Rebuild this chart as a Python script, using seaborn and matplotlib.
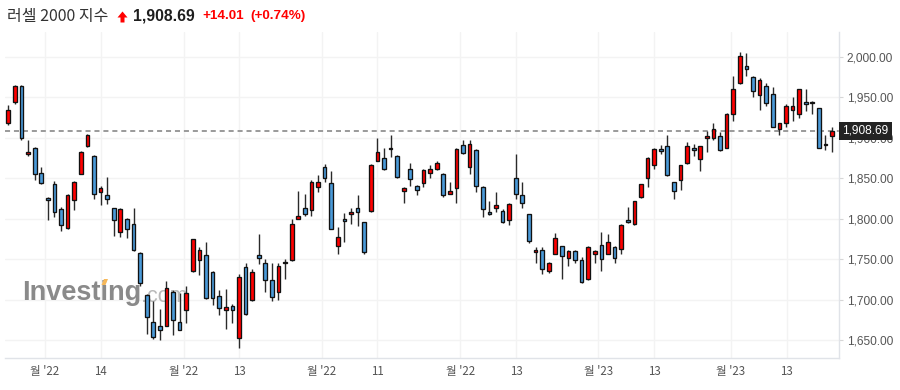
import numpy as np
import pandas as pd
import matplotlib
matplotlib.use("Agg")
import matplotlib.pyplot as plt
import matplotlib.transforms as mtransforms
from matplotlib.patches import Polygon
import seaborn as sns

# ---------------- data ----------------
opens = [1918, 1944, 1964, 1880, 1888, 1857, 1826, 1843, 1812, 1789,
         1823, 1856, 1890, 1878, 1833, 1830, 1813, 1784, 1800, 1794,
         1758, 1706, 1673, 1668, 1668, 1710, 1672, 1687, 1735, 1749,
         1755, 1734, 1705, 1687, 1692, 1653, 1740, 1700, 1755, 1746,
         1725, 1709, 1745, 1749, 1800, 1814, 1811, 1839, 1864, 1844,
         1767, 1800, 1805.5, 1814, 1796, 1810, 1872, 1875, 1886, 1878,
         1835, 1861, 1841, 1844, 1857, 1862, 1856, 1831, 1838, 1891,
         1864, 1885, 1839, 1808, 1814, 1810, 1798, 1851, 1830, 1805.5,
         1758.5, 1762, 1735, 1757, 1766, 1752, 1760, 1748.6, 1726, 1757,
         1768, 1757, 1765, 1763, 1799, 1793, 1826.5, 1850, 1867, 1886,
         1890, 1845, 1847.5, 1868.5, 1887, 1873.5, 1899.5, 1899.5, 1902, 1888,
         1930, 1967.5, 1988.5, 1975, 1952.6, 1964, 1954, 1910.6, 1919, 1934,
         1930, 1945, 1942.7, 1937, 1891, 1902]
highs = [1941, 1965, 1965, 1897, 1889, 1864, 1826.5, 1847, 1815, 1831,
         1847, 1884, 1905, 1879, 1840, 1852, 1813.5, 1813, 1801, 1814,
         1759, 1707, 1699, 1688, 1723, 1712, 1708, 1717, 1775, 1765,
         1771, 1735, 1712, 1713, 1695, 1732, 1746, 1738, 1781, 1750,
         1745, 1745, 1750, 1800, 1835, 1831, 1848, 1854, 1868, 1859,
         1790, 1807, 1814, 1830, 1796.5, 1868, 1899.5, 1888, 1904, 1879,
         1839, 1868.5, 1842, 1861, 1867, 1872, 1857, 1845, 1887, 1897,
         1897, 1886, 1840, 1821.5, 1833, 1812, 1819, 1880, 1845, 1806,
         1765, 1765, 1747, 1783, 1767, 1761, 1761, 1753, 1767, 1762,
         1784, 1781, 1766, 1793, 1815, 1822, 1843, 1876, 1888, 1891,
         1903, 1846, 1867, 1894.5, 1892, 1890, 1909, 1918, 1907, 1931,
         1976, 2006, 2004.6, 1976, 1974, 1967.5, 1962.5, 1919, 1941.5, 1951,
         1961, 1961, 1946, 1937.5, 1903, 1914]
lows = [1916, 1942, 1898, 1878, 1848, 1843, 1798, 1802, 1785, 1787,
        1811, 1855, 1889, 1825, 1817, 1818, 1779, 1778, 1776, 1760,
        1717, 1658, 1652, 1650, 1667, 1656, 1662, 1671, 1734, 1731,
        1701, 1694, 1681, 1664, 1671, 1640, 1681, 1699, 1744, 1709,
        1699, 1700, 1726, 1748, 1800, 1804, 1804, 1833, 1845, 1787,
        1757, 1771, 1793, 1791, 1757, 1809, 1871, 1860, 1877, 1851,
        1820, 1840, 1829, 1839, 1851, 1860, 1826.5, 1830.5, 1820, 1880,
        1856, 1833, 1802, 1805, 1808, 1795, 1792, 1824, 1813, 1770,
        1746, 1732, 1732.5, 1756, 1726, 1742, 1745, 1721, 1725, 1746,
        1736, 1756, 1745, 1757, 1795, 1792, 1826, 1839, 1861, 1880,
        1853, 1825, 1836, 1868, 1878, 1858.6, 1882, 1898, 1884, 1887,
        1920.5, 1967, 1976, 1951, 1935, 1940, 1913, 1903, 1913, 1920.5,
        1924, 1933, 1929, 1887, 1884.6, 1883]
closes = [1934, 1964, 1899.5, 1882.5, 1855, 1844, 1823, 1809, 1792, 1830,
          1846, 1882, 1904, 1831, 1838, 1824, 1798, 1812, 1787, 1761,
          1721, 1679, 1654, 1662, 1714, 1675, 1663, 1708, 1775, 1761,
          1702, 1702, 1690, 1691, 1687, 1728, 1682, 1734, 1752, 1725,
          1704, 1741.5, 1747, 1794, 1803, 1805.5, 1846, 1846, 1851, 1788,
          1778, 1797, 1808, 1808, 1759, 1867, 1882, 1861, 1888, 1852,
          1838, 1849, 1836, 1860, 1862, 1868.5, 1830, 1835, 1886, 1881,
          1892, 1840, 1812, 1805.5, 1816.6, 1796, 1818, 1831, 1820, 1773,
          1762, 1737.5, 1746, 1776, 1753.5, 1760, 1748.6, 1721.4, 1765, 1760,
          1750, 1771, 1752, 1792, 1796, 1821.5, 1842.6, 1875, 1886, 1883.4,
          1854, 1835, 1866, 1890, 1884.6, 1889.6, 1902, 1910.6, 1884.6, 1930,
          1960, 2001, 1985, 1957.6, 1971, 1942.7, 1914, 1918, 1940, 1939,
          1960, 1941.5, 1945, 1888, 1893, 1908.69]

y_ticks = [1650, 1700, 1750, 1800, 1850, 1900, 1950, 2000]
x_tick_pos = [5.5, 14.0, 26.6, 35.0, 47.6, 56.0, 68.6, 77.1, 89.5, 98.0, 109.6, 118.1]
x_tick_labels = ["월 '22", "14", "월 '22", "13", "월 '22", "11", "월 '22", "13",
                 "월 '23", "13", "월 '23", "13"]

title_name = "러셀 2000 지수"
last_price = 1908.69
change_abs = 14.01
change_pct = 0.74

UP_COLOR = "#ff0000"
DOWN_COLOR = "#4a9ad8"

# ---------------- style ----------------
sns.set_theme(style="white")
plt.rcParams['font.family'] = ['Liberation Sans', 'Noto Sans CJK KR', 'DejaVu Sans']

df = pd.DataFrame({"open": opens, "high": highs, "low": lows, "close": closes})
df["idx"] = np.arange(len(df))
df["up"] = df["close"] >= df["open"]
df["body_lo"] = df[["open", "close"]].min(axis=1)
df["body_h"] = (df["close"] - df["open"]).abs().clip(lower=1.2)
df["color"] = np.where(df["up"], UP_COLOR, DOWN_COLOR)

fig = plt.figure(figsize=(9, 3.9), dpi=100)
W, H = 900, 390
ax = fig.add_axes([5 / W, 32 / H, 834 / W, 326 / H])

# wicks
ax.vlines(df["idx"], df["low"], df["high"], color="#2a2a2a", linewidth=1.0, zorder=3)
# bodies
ax.bar(df["idx"], df["body_h"], bottom=df["body_lo"], width=0.56,
       color=df["color"], edgecolor="#111111", linewidth=0.95, zorder=4)

# last price dashed line
ax.axhline(last_price, color="#9a9a9a", linewidth=1.4, dashes=(2.6, 2.0), zorder=2)

ax.set_xlim(-0.5, 126.05)
ax.set_ylim(1628.0, 2030.9)

# axes styling
ax.yaxis.tick_right()
ax.set_yticks(y_ticks)
ax.set_yticklabels([f"{v:,.2f}" for v in y_ticks])
ax.set_xticks(x_tick_pos)
ax.set_xticklabels(x_tick_labels, fontfamily=['Noto Sans CJK KR', 'DejaVu Sans'])
ax.tick_params(axis="y", which="both", right=True, length=3, width=0.8, color="#d6d6d6",
               labelcolor="#555555", labelsize=8.6, pad=2.5)
ax.tick_params(axis="x", length=0, labelcolor="#555555", labelsize=8.3, pad=5)
ax.grid(True, color="#f3f3f3", linewidth=1.0, zorder=0)
ax.set_axisbelow(True)
for side in ("left", "top"):
    ax.spines[side].set_visible(False)
for side in ("right", "bottom"):
    ax.spines[side].set_color("#e0e3e8")
    ax.spines[side].set_linewidth(1.0)

# last price label box
trans = mtransforms.blended_transform_factory(ax.transAxes, ax.transData)
ax.text(1.0 + 3.5 / 834, last_price, f"{last_price:,.2f}", transform=trans,
        ha="left", va="center", color="white", fontsize=8.6, zorder=10,
        bbox=dict(boxstyle="square,pad=0.28", facecolor="#232323", edgecolor="none"),
        clip_on=False)

# watermark
ax.text((22 - 5) / 834, (358 - 293) / 326, "Investing", transform=ax.transAxes,
        ha="left", va="center", fontsize=19.5, fontweight="bold", color="#8a8a8a",
        zorder=1)
ax.text((141 - 5) / 834, (358 - 296) / 326, ".com", transform=ax.transAxes,
        ha="left", va="center", fontsize=15.5, color="#b9b9b9", zorder=1)
ax.add_patch(Polygon([[(101.5 - 5) / 834, (358 - 285) / 326],
                      [(105.5 - 5) / 834, (358 - 285) / 326],
                      [(108.0 - 5) / 834, (358 - 279) / 326],
                      [(104.0 - 5) / 834, (358 - 279) / 326]],
                     closed=True, transform=ax.transAxes, facecolor="#f6b85a",
                     edgecolor="none", zorder=1.5))

# header
fig.text(7 / W, 1 - 16 / H, title_name, ha="left", va="center", fontsize=11.5,
         color="#333333", family=['Noto Sans CJK KR', 'DejaVu Sans'])
# red up-arrow icon
arrow_px = [(122.5, 11.5), (127.5, 17.5), (124.5, 17.5), (124.5, 22.5),
            (120.5, 22.5), (120.5, 17.5), (117.5, 17.5)]
fig.add_artist(Polygon([[x / W, 1 - y / H] for x, y in arrow_px], closed=True,
                       transform=fig.transFigure, facecolor="#ff0000", edgecolor="none"))
fig.text(133 / W, 1 - 16 / H, f"{last_price:,.2f}", ha="left", va="center",
         fontsize=11.3, fontweight="bold", color="#1e1e1e")
fig.text(202 / W, 1 - 16 / H, f"+{change_abs:.2f}", ha="left", va="center",
         fontsize=9.7, fontweight="bold", color="#ff0000")
fig.text(250 / W, 1 - 16 / H, f"(+{change_pct:.2f}%)", ha="left", va="center",
         fontsize=9.7, fontweight="bold", color="#ff0000")

fig.savefig("out.png", dpi=100)
